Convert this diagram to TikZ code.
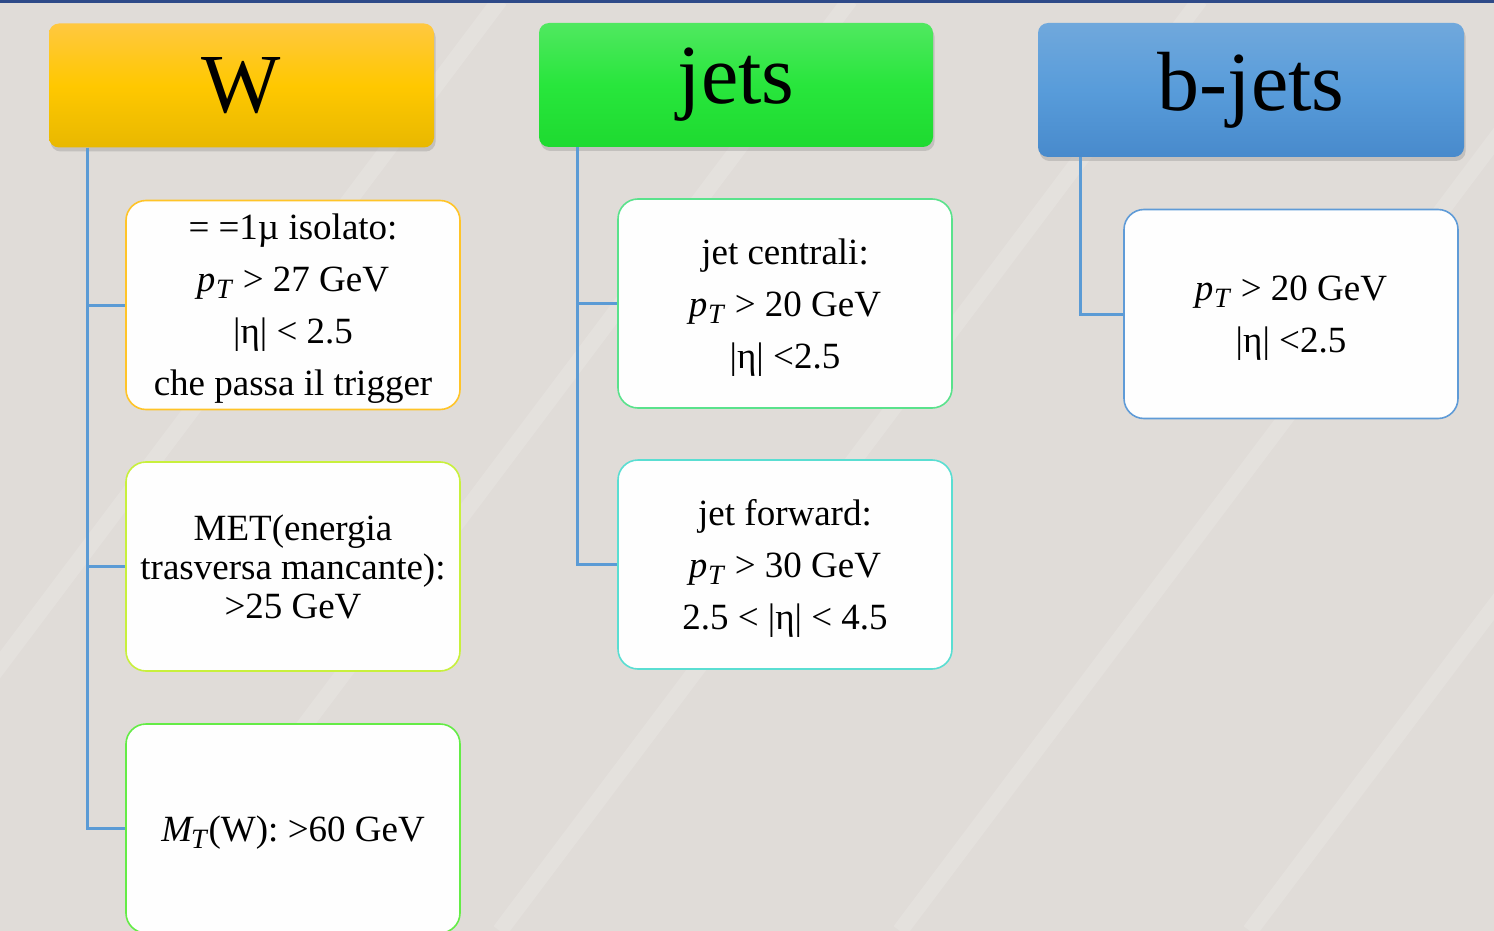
\documentclass[tikz,border=0pt]{standalone}
\usepackage{fontspec}
\setmainfont{Liberation Serif}
\usepackage{tikz}
\usetikzlibrary{shadows}
\usepackage{xcolor}

\definecolor{bgpaper}{RGB}{224,220,216}
\definecolor{topbar}{RGB}{46,74,136}
\definecolor{linkblue}{RGB}{91,155,213}
\definecolor{wtop}{RGB}{255,200,64}
\definecolor{wmid}{RGB}{255,200,0}
\definecolor{wbot}{RGB}{232,184,0}
\definecolor{jtop}{RGB}{80,232,96}
\definecolor{jmid}{RGB}{40,230,60}
\definecolor{jbot}{RGB}{30,218,48}
\definecolor{btop}{RGB}{112,168,220}
\definecolor{bmid}{RGB}{88,156,218}
\definecolor{bbot}{RGB}{72,138,204}
\definecolor{edgeorange}{RGB}{255,196,40}
\definecolor{edgelime}{RGB}{200,240,60}
\definecolor{edgegreen}{RGB}{100,236,70}
\definecolor{edgemint}{RGB}{90,226,140}
\definecolor{edgecyan}{RGB}{90,222,210}
\definecolor{edgeblue}{RGB}{95,155,215}

\newcommand{\pT}{{\itshape p}\kern0.3pt\raisebox{-0.4ex}{\itshape\fontsize{14}{14}\selectfont T}\kern1pt}
\newcommand{\MT}{{\itshape M}\kern-0.5pt\raisebox{-0.4ex}{\itshape\fontsize{14}{14}\selectfont T}\kern1pt}

\begin{document}
\begin{tikzpicture}[x=0.5pt,y=-0.5pt,
    header/.style={rectangle, rounded corners=5pt, minimum height=62pt,
        font=\fontsize{42}{42}\selectfont, inner sep=0pt,
        drop shadow={opacity=0.3, shadow xshift=0.8pt, shadow yshift=-2pt}},
    cutbox/.style={rectangle, rounded corners=10pt, draw, line width=0.8pt,
        fill=white!97!bgpaper, minimum width=167pt, minimum height=104.5pt,
        align=center, inner sep=2pt, text depth=-1.5pt},
    body/.style={font=\fontsize{18.5}{26}\selectfont},
    link/.style={draw=linkblue, line width=1.5pt}]

    % background and top rule
    \useasboundingbox (0,0) rectangle (1494,931);
    \fill[bgpaper] (0,0) rectangle (1494,931);
    \begin{scope}
        \clip (0,0) rectangle (1494,931);
        \foreach \x in {-200,150,500,900,1250} {
            \draw[white, opacity=0.15, line width=8pt] (\x,931) -- (\x+700,0);
        }
    \end{scope}
    \fill[topbar] (0,0) rectangle (1494,3.5);

    % headers
    \node[header, minimum width=192.5pt, top color=wtop, bottom color=wbot, middle color=wmid]
        (W) at (241.5,85.5) {W};
    \node[header, minimum width=197pt, top color=jtop, bottom color=jbot, middle color=jmid]
        (jets) at (736,85) {jets};
    \node[header, minimum width=213pt, minimum height=67pt, top color=btop, bottom color=bbot, middle color=bmid]
        (bjets) at (1251,90) {b-jets};

    % W cuts
    \node[cutbox, body, draw=edgeorange] (mu) at (293,305)
        {= =1µ isolato:\\ \pT{} > 27 GeV\\ |η| < 2.5\\ che passa il trigger};
    \node[cutbox, draw=edgelime, font=\fontsize{18.5}{19.5}\selectfont] (met) at (293,566.5)
        {MET(energia\\ trasversa mancante):\\ >25 GeV};
    \node[cutbox, body, draw=edgegreen] (mt) at (293,828.5) {\MT(W): >60 GeV};

    % jet cuts
    \node[cutbox, body, draw=edgemint] (central) at (785,303.5)
        {jet centrali:\\ \pT{} > 20 GeV\\ |η| <2.5};
    \node[cutbox, body, draw=edgecyan] (forward) at (785,564.5)
        {jet forward:\\ \pT{} > 30 GeV\\ 2.5 < |η| < 4.5};

    % b-jet cuts
    \node[cutbox, body, draw=edgeblue] (bcut) at (1291,314) {\pT{} > 20 GeV\\ |η| <2.5};

    % connectors
    \draw[link] ([xshift=19.5pt]W.south west) |- (mu.west);
    \draw[link] ([xshift=19.5pt]W.south west) |- (met.west);
    \draw[link] ([xshift=19.5pt]W.south west) |- (mt.west);
    \draw[link] ([xshift=19.5pt]jets.south west) |- (central.west);
    \draw[link] ([xshift=19.5pt]jets.south west) |- (forward.west);
    \draw[link] ([xshift=21.5pt]bjets.south west) |- (bcut.west);
\end{tikzpicture}
\end{document}
